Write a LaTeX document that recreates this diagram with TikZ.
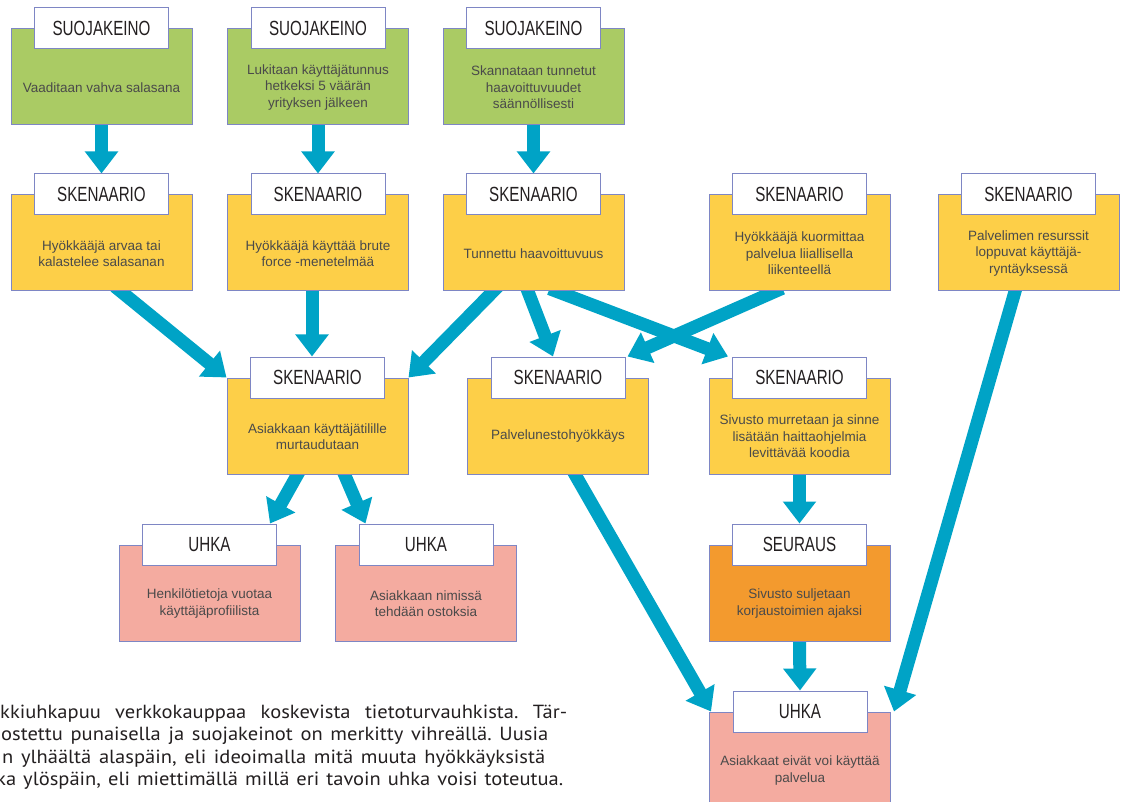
\documentclass[tikz,border=0pt]{standalone}
\usepackage{fontspec}
\setmainfont{Liberation Sans}
\newfontfamily\headfont[FakeStretch=0.74]{Liberation Sans}
\newfontfamily\capfont[FakeStretch=1.08]{PT Sans}
\usetikzlibrary{arrows.meta}
\pgfdeclarelayer{bg}
\pgfsetlayers{bg,main}
\definecolor{boxline}{HTML}{7E86C4}
\definecolor{cgreen}{HTML}{AACB64}
\definecolor{cyellow}{HTML}{FDCF48}
\definecolor{cpink}{HTML}{F4ABA0}
\definecolor{corange}{HTML}{F39A2E}
\definecolor{cteal}{HTML}{00A3C6}
\definecolor{bodytext}{HTML}{4A4A4A}
\definecolor{headtext}{HTML}{231F20}
\tikzset{
 body/.style={draw=boxline, line width=1pt, minimum width=181pt, minimum height=96pt, inner sep=0pt},
 head/.style={draw=boxline, line width=1pt, fill=white, minimum width=134pt, minimum height=41pt, inner sep=0pt, font=\headfont\fontsize{20.5}{24}\selectfont, text=headtext},
 btext/.style={align=center, font=\fontsize{13.5}{16.5}\selectfont, text=bodytext, inner sep=0pt},
 flow/.style={draw=cteal, line width=13pt, -{Triangle[length=22pt,width=32pt]}, shorten <=-8pt},
 capline/.style={anchor=base west, inner sep=0pt, font=\capfont\fontsize{19}{22}\selectfont\frenchspacing, text=headtext}
}
\newcommand\mybox[6]{%
 \node[body, fill=#4] (#1) at (#2,#3) {};
 \node[head] (#1-h) at (#1.north) {#5};
 \node[btext] (#1-t) at ([yshift=-10.5pt]#1.center) {#6};
}
\begin{document}
\begin{tikzpicture}[x=1pt,y=-1pt]
\useasboundingbox (0,0) rectangle (1122,802);
% row 1
\mybox{g1}{101.5}{77}{cgreen}{SUOJAKEINO}{Vaaditaan vahva salasana}
\mybox{g2}{318}{77}{cgreen}{SUOJAKEINO}{Lukitaan käyttäjätunnus\\hetkeksi 5 väärän\\yrityksen jälkeen}
\mybox{g3}{533.5}{77}{cgreen}{SUOJAKEINO}{Skannataan tunnetut\\haavoittuvuudet\\säännöllisesti}
% row 2
\mybox{y1}{101.5}{243}{cyellow}{SKENAARIO}{Hyökkääjä arvaa tai\\kalastelee salasanan}
\mybox{y2}{318}{243}{cyellow}{SKENAARIO}{Hyökkääjä käyttää brute\\force -menetelmää}
\mybox{y3}{533.5}{243}{cyellow}{SKENAARIO}{Tunnettu haavoittuvuus}
\mybox{y4}{799.5}{243}{cyellow}{SKENAARIO}{Hyökkääjä kuormittaa\\palvelua liiallisella\\liikenteellä}
\mybox{y5}{1028.5}{243}{cyellow}{SKENAARIO}{Palvelimen resurssit\\loppuvat käyttäjä-\\ryntäyksessä}
% row 3
\mybox{y6}{317.5}{426}{cyellow}{SKENAARIO}{Asiakkaan käyttäjätilille\\murtaudutaan}
\mybox{y7}{558}{426}{cyellow}{SKENAARIO}{Palvelunestohyökkäys}
\mybox{y8}{799.5}{426}{cyellow}{SKENAARIO}{Sivusto murretaan ja sinne\\lisätään haittaohjelmia\\levittävää koodia}
% row 4
\mybox{r1}{209.5}{593}{cpink}{UHKA}{Henkilötietoja vuotaa\\käyttäjäprofiilista}
\mybox{r2}{426}{593}{cpink}{UHKA}{Asiakkaan nimissä\\tehdään ostoksia}
\mybox{o1}{799.5}{593}{corange}{SEURAUS}{Sivusto suljetaan\\korjaustoimien ajaksi}
% row 5
\mybox{r3}{800}{760}{cpink}{UHKA}{Asiakkaat eivät voi käyttää\\palvelua}
% arrows
\begin{pgfonlayer}{bg}
\draw[flow] (g1.south) -- (y1-h.north);
\draw[flow] (g2.south) -- (y2-h.north);
\draw[flow] (g3.south) -- (y3-h.north);
\draw[flow] ([xshift=19.5pt]y1.south) -- (y6.north west);
\draw[flow] ([xshift=-6pt]y2.south) -- ([xshift=-5.5pt]y6-h.north);
\draw[flow] ([xshift=-40.5pt]y3.south) -- (y6.north east);
\draw[flow] ([xshift=-5.5pt]y3.south) -- ([xshift=-5pt]y7-h.north);
\draw[flow] ([xshift=23.5pt]y3.south) -- ([xshift=-4pt]y8-h.north west);
\draw[flow] ([xshift=-24.5pt]y4.south) -- ([xshift=2pt]y7-h.north east);
\draw[flow] ([xshift=-13.5pt]y5.south) -- ([xshift=3pt]r3.north east);
\draw[flow] ([xshift=-20pt]y6.south) -- ([xshift=-7pt]r1-h.north east);
\draw[flow] ([xshift=27pt]y6.south) -- ([xshift=7pt]r2-h.north west);
\draw[flow] ([xshift=17pt]y7.south) -- ([xshift=2pt]r3.north west);
\draw[flow] (y8.south) -- (o1-h.north);
\draw[flow] (o1.south) -- (r3-h.north);
\end{pgfonlayer}
% caption
\node[capline] (c1) at (0,718) {\makebox[567pt][s]{kkiuhkapuu verkkokauppaa koskevista tietoturvauhkista. Tär-}};
\node[capline] (c2) at (1,740) {\makebox[547pt][s]{ostettu punaisella ja suojakeinot on merkitty vihreällä. Uusia}};
\node[capline] (c3) at (2,763) {\makebox[543pt][s]{n ylhäältä alaspäin, eli ideoimalla mitä muuta hyökkäyksistä}};
\node[capline] (c4) at (-4,785) {\makebox[567pt][s]{ka ylöspäin, eli miettimällä millä eri tavoin uhka voisi toteutua.}};
\end{tikzpicture}
\end{document}
